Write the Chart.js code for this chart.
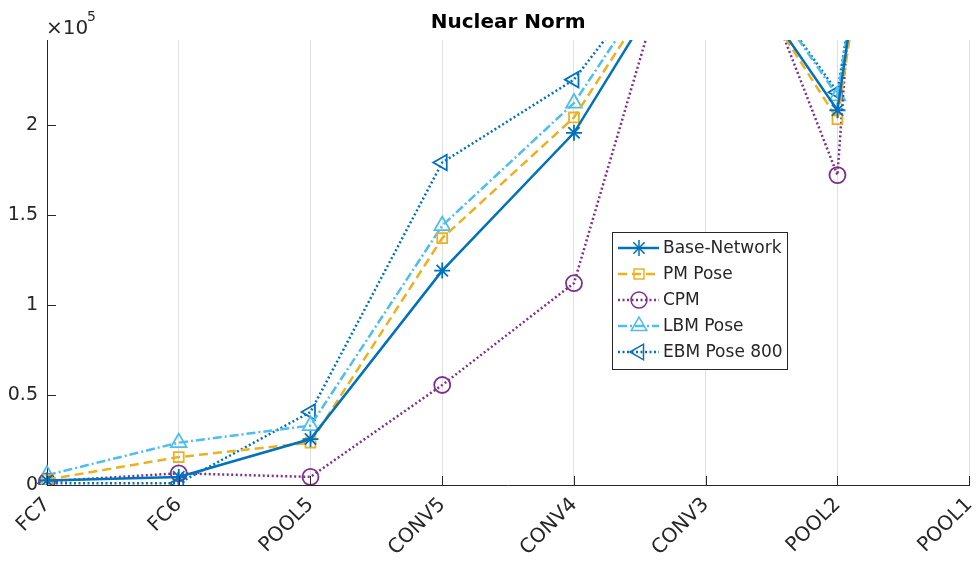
<!DOCTYPE html>
<html>
<head>
<meta charset="utf-8">
<script src="https://cdn.jsdelivr.net/npm/chart.js@4"></script>
<style>
  html, body { margin: 0; padding: 0; background: #fff; }
  #wrap { width: 980px; height: 562px; position: relative; }
</style>
</head>
<body>
<div id="wrap"><canvas id="nuclearChart"></canvas></div>
<script>
// layers, left to right
const layers = ['FC7', 'FC6', 'POOL5', 'CONV5', 'CONV4', 'CONV3', 'POOL2', 'POOL1'];

// nuclear norm per layer (raw values, axis shows x10^5)
const baseNetwork = [2500, 4500, 25500, 119000, 195500, 314000, 208000, 710000];
const pmPose      = [3000, 15500, 23500, 137000, 204000, 317000, 203000, 690000];
const cpm         = [2000, 6500, 4500, 55500, 112000, 360000, 172000, 1200000];
const lbmPose     = [5500, 23500, 33000, 144000, 212000, 322000, 216000, 680000];
const ebmPose800  = [1000, 1000, 40500, 179000, 225000, 320000, 218000, 680000];

const yTicks = [0, 50000, 100000, 150000, 200000];
const yMax = 247000;

const FONT = '"DejaVu Sans", sans-serif';
const TEXT = '#262626';

const series = [
    { label: 'Base-Network', data: baseNetwork, color: '#0072BD', dash: [],           style: 'star',     rot: 0,   r: 8 },
    { label: 'PM Pose',      data: pmPose,      color: '#EDB120', dash: [9, 5],       style: 'rect',     rot: 0,   r: 7 },
    { label: 'CPM',          data: cpm,         color: '#7E2F8E', dash: [2, 2.5],     style: 'circle',   rot: 0,   r: 8 },
    { label: 'LBM Pose',     data: lbmPose,     color: '#4DBEEE', dash: [9, 3, 2, 3], style: 'triangle', rot: 0,   r: 9 },
    { label: 'EBM Pose 800', data: ebmPose800,  color: '#0072BD', dash: [2, 2.5],     style: 'triangle', rot: -90, r: 9 }
];

// title, x10^5 label, inward ticks and the legend box
const decorations = {
    id: 'decorations',
    afterDraw(chart) {
        const ctx = chart.ctx;
        const area = chart.chartArea;
        const x = chart.scales.x, y = chart.scales.y;
        ctx.save();

        // inward tick marks
        ctx.strokeStyle = TEXT;
        ctx.lineWidth = 1;
        ctx.beginPath();
        yTicks.forEach(v => {
            const py = Math.round(y.getPixelForValue(v)) + 0.5;
            ctx.moveTo(area.left, py);
            ctx.lineTo(area.left + 9, py);
        });
        layers.forEach((l, i) => {
            const px = Math.round(x.getPixelForValue(i)) + 0.5;
            ctx.moveTo(px, area.bottom);
            ctx.lineTo(px, area.bottom - 9);
        });
        ctx.stroke();

        // title
        ctx.fillStyle = '#000';
        ctx.font = 'bold 20px ' + FONT;
        ctx.textAlign = 'center';
        ctx.textBaseline = 'alphabetic';
        ctx.fillText('Nuclear Norm', (area.left + area.right) / 2, 28);

        // exponent
        ctx.fillStyle = TEXT;
        ctx.textAlign = 'left';
        ctx.font = '20px ' + FONT;
        ctx.fillText('\u00d710', 46, 34);
        ctx.font = '14px ' + FONT;
        ctx.fillText('5', 87, 21);

        // legend
        const bx = 612, by = 232, bw = 175, bh = 137;
        ctx.fillStyle = '#fff';
        ctx.fillRect(bx, by, bw, bh);
        ctx.strokeStyle = '#262626';
        ctx.lineWidth = 1;
        ctx.strokeRect(bx + 0.5, by + 0.5, bw, bh);

        series.forEach((s, i) => {
            const ry = by + 16 + i * 26;
            ctx.strokeStyle = s.color;
            ctx.lineWidth = 2.5;
            ctx.setLineDash(s.dash);
            ctx.beginPath();
            ctx.moveTo(bx + 6, ry);
            ctx.lineTo(bx + 47, ry);
            ctx.stroke();
            ctx.setLineDash([]);
            ctx.lineWidth = 1.5;
            ctx.fillStyle = 'rgba(0,0,0,0)';
            Chart.helpers.drawPoint(ctx, {
                pointStyle: s.style, rotation: s.rot, radius: s.r, borderWidth: 1.5
            }, bx + 27, ry);
            ctx.fillStyle = TEXT;
            ctx.font = '17px ' + FONT;
            ctx.textAlign = 'left';
            ctx.textBaseline = 'middle';
            ctx.fillText(s.label, bx + 51, ry + 1);
        });
        ctx.restore();
    }
};

const ctx = document.getElementById('nuclearChart').getContext('2d');

new Chart(ctx, {
    type: 'line',
    data: {
        labels: layers,
        datasets: series.map(s => ({
            label: s.label,
            data: s.data,
            borderColor: s.color,
            backgroundColor: 'rgba(0,0,0,0)',
            borderWidth: 2.5,
            borderDash: s.dash,
            pointStyle: s.style,
            pointRotation: s.rot,
            pointRadius: s.r,
            pointBorderWidth: 1.8,
            pointBorderColor: s.color,
            pointBackgroundColor: 'rgba(0,0,0,0)',
            fill: false,
            tension: 0
        }))
    },
    options: {
        responsive: true,
        maintainAspectRatio: false,
        animation: false,
        layout: { padding: { top: 40, right: 10, left: 0, bottom: 0 } },
        plugins: {
            legend: { display: false },
            title: { display: false },
            tooltip: { enabled: false }
        },
        scales: {
            x: {
                offset: false,
                grid: { display: true, color: '#dfdfdf', drawTicks: false, lineWidth: 1 },
                border: { display: true, color: TEXT, width: 1 },
                ticks: {
                    color: TEXT,
                    font: { family: FONT, size: 20 },
                    maxRotation: 45,
                    minRotation: 45,
                    padding: 8,
                    autoSkip: false
                },
                afterFit(s) {
                    s.height = 77;
                    s.paddingRight = 10;
                    s.paddingLeft = 0;
                }
            },
            y: {
                min: 0,
                max: yMax,
                grid: { display: false, drawTicks: false },
                border: { display: true, color: TEXT, width: 1 },
                ticks: {
                    stepSize: 50000,
                    color: TEXT,
                    padding: 9,
                    font: { family: FONT, size: 19 },
                    callback: v => String(v / 100000)
                },
                afterBuildTicks(s) {
                    s.ticks = yTicks.map(v => ({ value: v }));
                },
                afterFit(s) {
                    s.width = 47;
                }
            }
        }
    },
    plugins: [decorations]
});
</script>
</body>
</html>
